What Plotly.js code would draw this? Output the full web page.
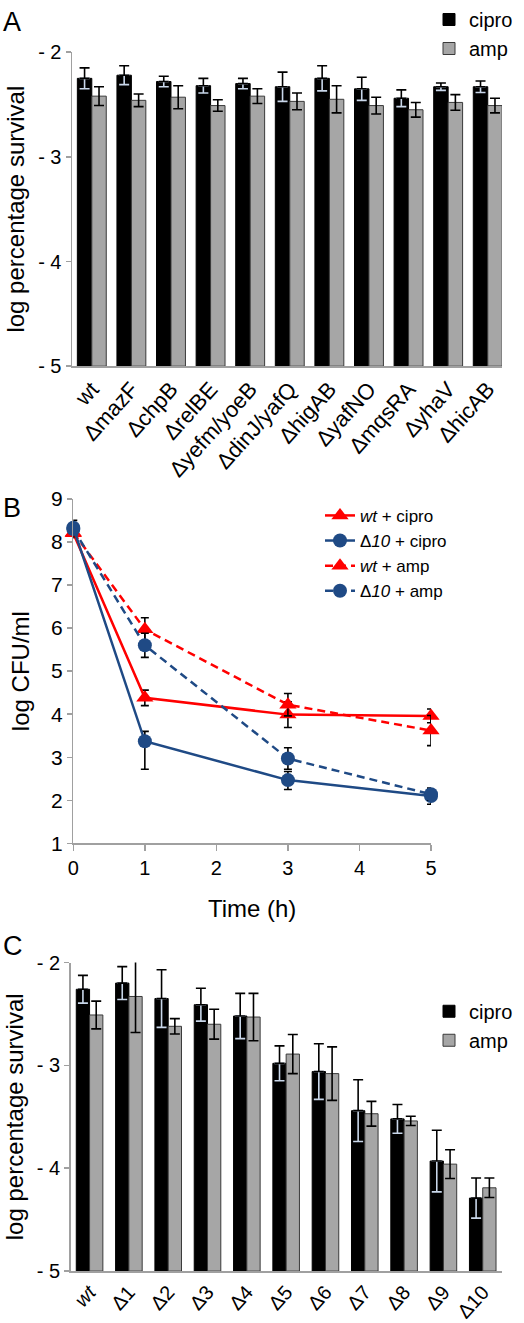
<!DOCTYPE html>
<html>
<head>
<meta charset="utf-8">
<script src="https://cdn.plot.ly/plotly-3.0.1.min.js"></script>
<style>html,body{margin:0;padding:0;background:#fff;}#chart{width:524px;height:1323px;}</style>
</head>
<body>
<div id="chart"></div>
<script>
// ---------- Panel A data ----------
const catsA = ['wt','ΔmazF','ΔchpB','ΔrelBE','Δyefm/yoeB','ΔdinJ/yafQ','ΔhigAB','ΔyafNO','ΔmqsRA','ΔyhaV','ΔhicAB'];
const ciproA = [-2.25, -2.22, -2.28, -2.32, -2.30, -2.33, -2.25, -2.35, -2.44, -2.33, -2.33];
const ciproAErr = [0.10, 0.09, 0.05, 0.07, 0.05, 0.14, 0.12, 0.11, 0.08, 0.035, 0.055];
const ampA = [-2.42, -2.46, -2.43, -2.51, -2.42, -2.47, -2.45, -2.51, -2.55, -2.48, -2.51];
const ampAErr = [0.09, 0.06, 0.11, 0.055, 0.07, 0.08, 0.13, 0.08, 0.07, 0.075, 0.07];

// ---------- Panel B data ----------
const timeB = [0, 1, 3, 5];
const wtCipro = [8.20, 4.38, 3.99, 3.96];
const wtCiproErr = [0.10, 0.18, 0.30, 0.16];
const d10Cipro = [8.33, 3.37, 2.47, 2.10];
const d10CiproErrUp = [0.17, 0.23, 0.20, 0.18];
const d10CiproErrDown = [0.17, 0.65, 0.22, 0.19];
const wtAmp = [8.22, 5.97, 4.22, 3.62];
const wtAmpErr = [0.10, 0.27, 0.26, 0.35];
const d10Amp = [8.30, 5.60, 2.97, 2.14];
const d10AmpErr = [0.10, 0.28, 0.25, 0.14];

// ---------- Panel C data ----------
const catsC = ['<i>wt</i>','Δ1','Δ2','Δ3','Δ4','Δ5','Δ6','Δ7','Δ8','Δ9','Δ10'];
const ciproC = [-2.26, -2.20, -2.35, -2.41, -2.52, -2.98, -3.06, -3.44, -3.52, -3.93, -4.29];
const ciproCErr = [0.135, 0.16, 0.28, 0.16, 0.22, 0.17, 0.27, 0.30, 0.14, 0.30, 0.195];
const ampC = [-2.51, -2.33, -2.62, -2.60, -2.53, -2.89, -3.08, -3.47, -3.54, -3.96, -4.19];
const ampCErr = [0.135, 0.35, 0.075, 0.145, 0.23, 0.19, 0.26, 0.12, 0.045, 0.14, 0.095];

// ---------- axis tick labels ----------
const survTickVals = [-5, -4, -3, -2];
const survTickText = ['- 5', '- 4', '- 3', '- 2'];

const BASE = -5;
const FONT = 'Liberation Sans, Arial, Helvetica, sans-serif';
const AXC = '#a0a0a0';
const LIGHT = '#c9d7ea';
const GREY = '#a6a6a6';
const RED = '#ff0000';
const BLUE = '#1f4a85';

function barSet(cats, cipro, ciproErr, amp, ampErr, xa, ya, leg, half) {
  const zeros = cipro.map(() => 0);
  const heightsC = cipro.map(v => v - BASE);
  return [
    { // black cipro bars
      type: 'bar', name: 'cipro', x: cats, y: heightsC, base: BASE,
      xaxis: xa, yaxis: ya, offset: -half, width: half, legend: leg,
      marker: {color: '#000000', line: {color: '#000000', width: 1}}
    },
    { // lower (light) half of the cipro error bars, inside the black bars
      type: 'bar', x: cats, y: heightsC, base: BASE,
      xaxis: xa, yaxis: ya, offset: -half, width: half,
      marker: {color: 'rgba(0,0,0,0)', line: {width: 0}},
      error_y: {type: 'data', symmetric: false, array: zeros, arrayminus: ciproErr, color: LIGHT, thickness: 1.6, width: 5},
      showlegend: false, hoverinfo: 'skip'
    },
    { // upper (black) half of the cipro error bars
      type: 'bar', x: cats, y: heightsC, base: BASE,
      xaxis: xa, yaxis: ya, offset: -half, width: half,
      marker: {color: 'rgba(0,0,0,0)', line: {width: 0}},
      error_y: {type: 'data', symmetric: false, array: ciproErr, arrayminus: zeros, color: '#000000', thickness: 1.6, width: 5},
      showlegend: false, hoverinfo: 'skip'
    },
    {
      type: 'bar', name: 'amp', x: cats, y: amp.map(v => v - BASE), base: BASE,
      xaxis: xa, yaxis: ya, offset: 0, width: half, legend: leg,
      marker: {color: GREY, line: {color: '#3a3a3a', width: 1}},
      error_y: {type: 'data', array: ampErr, color: '#000000', thickness: 1.6, width: 5}
    }
  ];
}

const traces = [];
traces.push(...barSet(catsA, ciproA, ciproAErr, ampA, ampAErr, 'x', 'y', 'legend', 0.365));
traces.push(...barSet(catsC, ciproC, ciproCErr, ampC, ampCErr, 'x3', 'y3', 'legend3', 0.338));

function lineTrace(name, y, errUp, errDown, color, dash, symbol, size, rank) {
  return {
    type: 'scatter', mode: 'lines+markers', name: name, x: timeB, y: y,
    xaxis: 'x2', yaxis: 'y2', legend: 'legend2', legendrank: rank, cliponaxis: false,
    line: {color: color, width: 2.5, dash: dash},
    marker: {color: color, symbol: symbol, size: size},
    error_y: {type: 'data', symmetric: false, array: errUp, arrayminus: errDown, color: '#000000', thickness: 1.6, width: 4}
  };
}
traces.push(lineTrace('<i>wt</i> + cipro', wtCipro, wtCiproErr, wtCiproErr, RED, 'solid', 'triangle-up', 15, 1));
traces.push(lineTrace('<i>wt</i> + amp', wtAmp, wtAmpErr, wtAmpErr, RED, '8px,5px', 'triangle-up', 15, 3));
traces.push(lineTrace('Δ<i>10</i> + cipro', d10Cipro, d10CiproErrUp, d10CiproErrDown, BLUE, 'solid', 'circle', 14, 2));
traces.push(lineTrace('Δ<i>10</i> + amp', d10Amp, d10AmpErr, d10AmpErr, BLUE, '8px,5px', 'circle', 14, 4));

const W = 524, H = 1323;
const px = v => v / W;
const py = v => 1 - v / H;

function survY(domain) {
  return {
    domain: domain, range: [-5, -2], tickvals: survTickVals, ticktext: survTickText,
    showline: true, linecolor: AXC, linewidth: 1.5, ticks: 'outside', ticklen: 5, tickcolor: AXC, tickwidth: 1.5,
    showgrid: false, zeroline: false, tickfont: {size: 20, color: '#000'},
    title: {text: 'log percentage survival', font: {size: 24, color: '#000'}, standoff: 6}
  };
}

const layout = {
  width: W, height: H,
  margin: {l: 0, r: 0, t: 0, b: 0},
  paper_bgcolor: '#ffffff', plot_bgcolor: '#ffffff',
  font: {family: FONT, color: '#000000'},
  barmode: 'overlay',
  showlegend: true,
  xaxis: {
    domain: [px(72), px(502)], anchor: 'y', type: 'category', range: [-0.5, 10.36],
    showline: true, linecolor: AXC, linewidth: 1.5, ticks: '', showgrid: false, zeroline: false,
    tickangle: -48, tickfont: {size: 22, color: '#000'}
  },
  yaxis: Object.assign(survY([py(364), py(49.3)]), {anchor: 'x'}),
  xaxis2: {
    domain: [px(73.3), px(431)], anchor: 'y2', range: [0, 5], dtick: 1, tick0: 0,
    showline: true, linecolor: AXC, linewidth: 1.5, ticks: 'outside', ticklen: 6, tickcolor: AXC, tickwidth: 1.5,
    showgrid: false, zeroline: false, tickfont: {size: 20, color: '#000'},
    title: {text: 'Time (h)', font: {size: 24, color: '#000'}, standoff: 22}
  },
  yaxis2: {
    domain: [py(842.3), py(497)], anchor: 'x2', range: [1, 9], dtick: 1, tick0: 1,
    showline: true, linecolor: AXC, linewidth: 1.5, ticks: 'outside', ticklen: 5, tickcolor: AXC, tickwidth: 1.5,
    showgrid: false, zeroline: false, tickfont: {size: 21, color: '#000'},
    title: {text: 'log CFU/ml', font: {size: 24, color: '#000'}, standoff: 14}
  },
  xaxis3: {
    domain: [px(70.7), px(502)], anchor: 'y3', type: 'category', range: [-0.48, 10.49],
    showline: true, linecolor: AXC, linewidth: 1.5, ticks: '', showgrid: false, zeroline: false,
    tickangle: -48, tickfont: {size: 20, color: '#000'}
  },
  yaxis3: Object.assign(survY([py(1271), py(961.7)]), {anchor: 'x3'}),
  legend: {
    x: px(429), y: py(-3), xanchor: 'left', yanchor: 'top', bgcolor: 'rgba(0,0,0,0)',
    font: {size: 20, color: '#000'}, tracegroupgap: 9, traceorder: 'normal'
  },
  legend2: {
    x: px(320), y: py(496), xanchor: 'left', yanchor: 'top', bgcolor: 'rgba(0,0,0,0)',
    font: {size: 17, color: '#000'}, tracegroupgap: 0, traceorder: 'normal'
  },
  legend3: {
    x: px(429), y: py(991), xanchor: 'left', yanchor: 'top', bgcolor: 'rgba(0,0,0,0)',
    font: {size: 20, color: '#000'}, tracegroupgap: 9, traceorder: 'normal'
  },
  annotations: [
    {text: 'A', xref: 'paper', yref: 'paper', x: px(1), y: py(2), xanchor: 'left', yanchor: 'top', showarrow: false, font: {size: 27, color: '#000'}},
    {text: 'B', xref: 'paper', yref: 'paper', x: px(1), y: py(489), xanchor: 'left', yanchor: 'top', showarrow: false, font: {size: 27, color: '#000'}},
    {text: 'C', xref: 'paper', yref: 'paper', x: px(1), y: py(928), xanchor: 'left', yanchor: 'top', showarrow: false, font: {size: 27, color: '#000'}}
  ]
};

Plotly.newPlot('chart', traces, layout, {displayModeBar: false, staticPlot: true});
</script>
</body>
</html>
